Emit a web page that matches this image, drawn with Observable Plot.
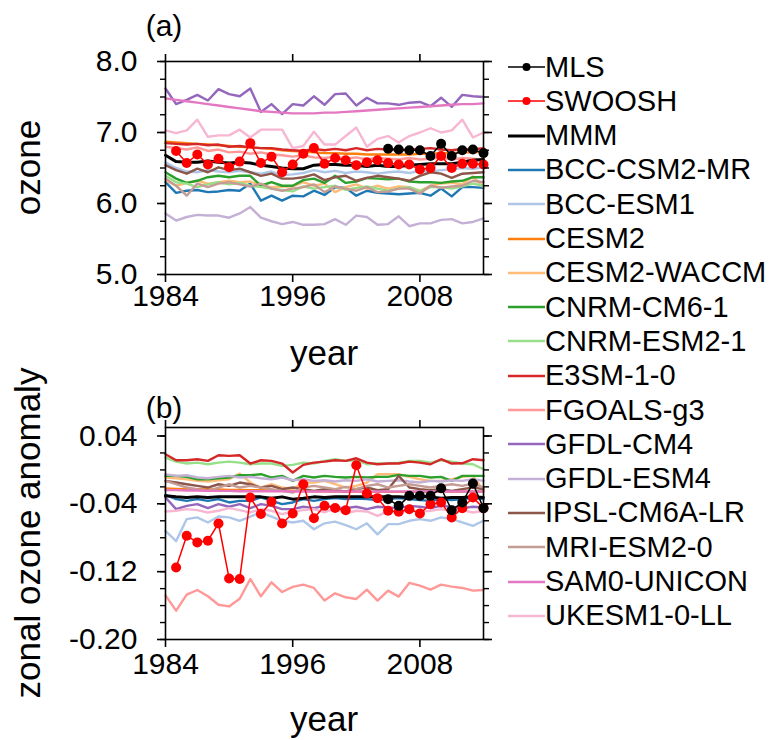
<!DOCTYPE html>
<html><head><meta charset="utf-8">
<script src="https://cdn.jsdelivr.net/npm/d3@7"></script>
<script src="https://cdn.jsdelivr.net/npm/@observablehq/plot@0.6"></script>
<style>
html,body{margin:0;padding:0;background:#fff;}
body{width:773px;height:740px;position:relative;overflow:hidden;font-family:"Liberation Sans",Arial,Helvetica,sans-serif;}
.panel{position:absolute;left:0;width:500px;}
#labels{position:absolute;left:0;top:0;pointer-events:none;}
.leg{position:absolute;left:508px;height:34px;display:flex;align-items:center;font-size:29px;color:#000;white-space:nowrap;}
.leg svg{display:block;}
</style></head><body>
<div id="pa" class="panel" style="top:0px"></div>
<div id="pb" class="panel" style="top:370px"></div>
<div id="legend"></div>
<svg id="labels" width="773" height="740" font-family="Liberation Sans, Arial, Helvetica, sans-serif" fill="#000">
  <text x="164" y="36" font-size="30" text-anchor="middle">(a)</text>
  <text x="164" y="418" font-size="30" text-anchor="middle">(b)</text>
  <text transform="translate(40,167.5) rotate(-90)" font-size="35" text-anchor="middle">ozone</text>
  <text transform="translate(40,533) rotate(-90)" font-size="35" text-anchor="middle">zonal ozone anomaly</text>
  <text x="324" y="365" font-size="35" text-anchor="middle">year</text>
  <text x="324" y="731" font-size="35" text-anchor="middle">year</text>
</svg>
<script>
const years = [1984,1985,1986,1987,1988,1989,1990,1991,1992,1993,1994,1995,1996,1997,1998,1999,2000,2001,2002,2003,2004,2005,2006,2007,2008,2009,2010,2011,2012,2013,2014];
const swooshYears = [1985,1986,1987,1988,1989,1990,1991,1992,1993,1994,1995,1996,1997,1998,1999,2000,2001,2002,2003,2004,2005,2006,2007,2008,2009,2010,2011,2012,2013,2014];
const mlsYears = [2005,2006,2007,2008,2009,2010,2011,2012,2013,2014];

const models = ["BCC-CSM2-MR","BCC-ESM1","CESM2","CESM2-WACCM","CNRM-CM6-1","CNRM-ESM2-1","E3SM-1-0","FGOALS-g3","GFDL-CM4","GFDL-ESM4","IPSL-CM6A-LR","MRI-ESM2-0","SAM0-UNICON","UKESM1-0-LL"];
const modelColors = ["#1f77b4","#aec7e8","#ff7f0e","#ffbb78","#2ca02c","#98df8a","#d62728","#ff9896","#9467bd","#c5b0d5","#8c564b","#c49c94","#e377c2","#f7b6d2"];
const legendNames = ["MLS","SWOOSH","MMM"].concat(models);

const xTicks = [1984, 1996, 2008];
const yTicksA = [5, 6, 7, 8];
const yTicksB = [-0.20, -0.12, -0.04, 0.04];

// ---- panel (a): ozone ----
const mlsA = [6.77,6.76,6.75,6.75,6.67,6.84,6.67,6.75,6.76,6.71];
const swooshA = [6.74,6.57,6.69,6.55,6.63,6.51,6.59,6.85,6.57,6.66,6.44,6.55,6.70,6.78,6.56,6.64,6.61,6.54,6.58,6.61,6.57,6.55,6.55,6.48,6.50,6.67,6.50,6.56,6.56,6.55];
const mmmA = [6.68,6.59,6.58,6.58,6.60,6.58,6.57,6.58,6.57,6.54,6.52,6.50,6.49,6.49,6.54,6.55,6.55,6.54,6.54,6.52,6.54,6.52,6.52,6.54,6.55,6.56,6.56,6.56,6.58,6.61,6.62];
const bccCsmA = [6.30,6.15,6.18,6.19,6.16,6.17,6.19,6.18,6.28,6.04,6.11,6.04,6.11,6.10,6.18,6.12,6.23,6.22,6.11,6.18,6.15,6.14,6.13,6.14,6.15,6.11,6.21,6.10,6.23,6.23,6.22];
const bccEsmA = [6.58,6.50,6.45,6.44,6.47,6.45,6.44,6.46,6.44,6.42,6.45,6.40,6.41,6.43,6.47,6.44,6.46,6.43,6.45,6.44,6.42,6.44,6.45,6.43,6.46,6.45,6.47,6.48,6.50,6.49,6.51];
const cesm2A = [6.87,6.86,6.85,6.84,6.83,6.82,6.81,6.80,6.79,6.78,6.77,6.75,6.74,6.73,6.72,6.71,6.71,6.70,6.70,6.69,6.69,6.69,6.69,6.69,6.70,6.70,6.71,6.71,6.72,6.72,6.73];
const waccmA = [6.33,6.25,6.29,6.32,6.28,6.30,6.32,6.30,6.31,6.25,6.23,6.24,6.24,6.30,6.25,6.28,6.16,6.23,6.27,6.21,6.25,6.21,6.24,6.23,6.18,6.25,6.28,6.29,6.27,6.38,6.23];
const cnrmCmA = [6.44,6.35,6.29,6.32,6.37,6.39,6.37,6.39,6.39,6.25,6.30,6.25,6.25,6.33,6.35,6.29,6.39,6.29,6.31,6.36,6.35,6.34,6.35,6.31,6.30,6.30,6.29,6.31,6.32,6.37,6.37];
const cnrmEsmA = [6.39,6.30,6.28,6.23,6.27,6.30,6.27,6.29,6.25,6.23,6.21,6.19,6.17,6.24,6.21,6.23,6.25,6.19,6.22,6.24,6.21,6.18,6.21,6.23,6.17,6.23,6.23,6.21,6.24,6.28,6.25];
const e3smA = [6.85,6.84,6.83,6.84,6.82,6.83,6.80,6.81,6.79,6.78,6.78,6.76,6.75,6.74,6.77,6.75,6.77,6.75,6.78,6.75,6.77,6.76,6.75,6.76,6.77,6.78,6.76,6.75,6.77,6.76,6.78];
const fgoalsA = [6.80,6.78,6.76,6.79,6.74,6.76,6.72,6.73,6.70,6.72,6.69,6.68,6.66,6.68,6.65,6.64,6.66,6.63,6.65,6.62,6.64,6.63,6.62,6.64,6.62,6.63,6.65,6.62,6.64,6.63,6.62];
const gfdlCmA = [7.62,7.40,7.46,7.53,7.45,7.61,7.54,7.51,7.62,7.29,7.40,7.26,7.40,7.38,7.51,7.39,7.54,7.55,7.38,7.49,7.41,7.41,7.39,7.42,7.43,7.37,7.49,7.36,7.53,7.51,7.50];
const gfdlEsmA = [5.86,5.76,5.81,5.84,5.83,5.83,5.80,5.86,5.95,5.80,5.75,5.71,5.74,5.70,5.70,5.71,5.78,5.70,5.83,5.81,5.70,5.71,5.82,5.68,5.72,5.72,5.77,5.78,5.72,5.74,5.79];
const ipslA = [6.54,6.47,6.42,6.49,6.44,6.51,6.47,6.49,6.44,6.39,6.42,6.35,6.35,6.37,6.41,6.33,6.37,6.39,6.32,6.36,6.39,6.37,6.35,6.32,6.39,6.44,6.42,6.36,6.42,6.43,6.44];
const mriA = [6.35,6.25,6.11,6.28,6.23,6.28,6.30,6.27,6.24,6.28,6.21,6.18,6.21,6.23,6.27,6.16,6.24,6.21,6.18,6.23,6.16,6.17,6.21,6.21,6.14,6.25,6.22,6.24,6.25,6.32,6.30];
const samA = [7.48,7.46,7.44,7.42,7.40,7.38,7.36,7.34,7.32,7.30,7.29,7.28,7.27,7.27,7.27,7.28,7.28,7.29,7.30,7.31,7.32,7.33,7.34,7.35,7.36,7.37,7.38,7.39,7.40,7.40,7.41];
const ukesmA = [7.03,6.99,7.03,7.18,6.94,6.96,6.96,7.04,6.93,7.04,7.04,7.04,6.78,6.81,7.01,6.83,6.83,6.95,7.07,6.80,6.91,6.95,6.86,6.95,7.00,7.06,7.00,7.03,7.18,6.93,7.00];

// ---- panel (b): zonal ozone anomaly ----
const mlsB = [-0.0345,-0.0424,-0.0306,-0.0306,-0.0306,-0.0216,-0.0475,-0.0384,-0.016,-0.0451];
const swooshB = [-0.115,-0.0776,-0.0855,-0.0835,-0.0632,-0.128,-0.1286,-0.0326,-0.052,-0.0376,-0.0632,-0.0514,-0.0169,-0.057,-0.0424,-0.045,-0.0475,0.0055,-0.0278,-0.0333,-0.0482,-0.0494,-0.0463,-0.0514,-0.0404,-0.0384,-0.056,-0.0451,-0.0325,-0.0451];
const mmmB = [-0.0306,-0.0318,-0.0325,-0.0318,-0.0325,-0.0318,-0.0318,-0.0318,-0.0318,-0.0318,-0.0333,-0.0318,-0.0345,-0.0333,-0.0318,-0.0325,-0.0318,-0.0318,-0.0318,-0.0318,-0.0318,-0.0318,-0.0318,-0.0325,-0.0318,-0.0318,-0.0333,-0.0325,-0.0325,-0.0318,-0.0325];
const bccCsmB = [-0.0294,-0.0345,-0.0365,-0.0345,-0.0365,-0.0345,-0.0384,-0.0365,-0.0365,-0.0325,-0.0365,-0.0404,-0.0384,-0.0345,-0.0365,-0.0345,-0.0333,-0.0345,-0.0337,-0.0345,-0.0357,-0.0345,-0.0333,-0.0345,-0.0357,-0.0365,-0.0345,-0.0357,-0.0345,-0.0333,-0.0345];
const bccEsmB = [-0.072,-0.084,-0.058,-0.056,-0.062,-0.055,-0.056,-0.060,-0.055,-0.050,-0.055,-0.060,-0.062,-0.060,-0.070,-0.063,-0.061,-0.065,-0.070,-0.063,-0.076,-0.064,-0.064,-0.060,-0.058,-0.060,-0.056,-0.058,-0.062,-0.066,-0.060];
const cesm2B = [-0.0220,-0.0224,-0.0227,-0.0227,-0.0231,-0.0231,-0.0235,-0.0235,-0.0239,-0.0239,-0.0243,-0.0243,-0.0247,-0.0247,-0.0251,-0.0251,-0.0255,-0.0255,-0.0255,-0.0259,-0.0259,-0.0259,-0.0259,-0.0259,-0.0259,-0.0259,-0.0255,-0.0255,-0.0255,-0.0255,-0.0255];
const waccmB = [-0.0090,-0.0098,-0.0110,-0.0129,-0.0137,-0.0122,-0.0110,-0.0043,-0.0149,-0.0208,-0.0169,-0.0208,-0.0227,-0.0149,-0.0149,-0.0129,-0.0169,-0.0208,-0.0188,-0.0149,-0.0051,-0.0051,-0.0051,-0.0082,-0.0110,-0.0129,-0.0129,-0.0110,-0.0082,-0.0071,-0.0239];
const cnrmCmB = [-0.0071,-0.0071,-0.0082,-0.0110,-0.0110,-0.0098,-0.0090,-0.0063,-0.0063,-0.0051,-0.0090,-0.0071,-0.0129,-0.0071,-0.0090,-0.0071,-0.0082,-0.0090,-0.0082,-0.0090,-0.0082,-0.0082,-0.0059,-0.0071,-0.0071,-0.0090,-0.0082,-0.0129,-0.0071,-0.0071,-0.0071];
const cnrmEsmB = [0.0145,0.0098,0.0075,0.0086,0.0067,0.0086,0.0098,0.0086,0.0067,0.0075,0.0075,0.0047,0.0059,0.0086,0.0075,0.0106,0.0126,0.0106,0.0114,0.0067,0.0075,0.0075,0.0086,0.0106,0.0106,0.0086,0.0114,0.0098,0.0075,0.0067,0.0008];
const e3smB = [0.0184,0.0114,0.0114,0.0126,0.0106,0.0173,0.0165,0.0173,0.0075,0.0114,0.0106,0.0075,-0.0031,0.0059,0.0086,0.0098,0.0114,0.0106,0.0137,0.0086,0.0067,0.0075,0.0075,0.0098,0.0086,0.0067,0.0126,0.0075,0.0078,0.0126,0.0114];
const fgoalsB = [-0.148,-0.166,-0.147,-0.1416,-0.149,-0.159,-0.161,-0.152,-0.1286,-0.149,-0.1325,-0.144,-0.138,-0.1353,-0.1392,-0.1541,-0.1455,-0.1502,-0.1522,-0.1412,-0.1541,-0.1424,-0.1494,-0.1333,-0.1365,-0.1412,-0.1353,-0.1376,-0.1392,-0.1424,-0.1416];
const gfdlCmB = [-0.0325,-0.0463,-0.0424,-0.0404,-0.0451,-0.0404,-0.0435,-0.0404,-0.0451,-0.0404,-0.0424,-0.0463,-0.0463,-0.0435,-0.0451,-0.0424,-0.0443,-0.0451,-0.0435,-0.0463,-0.0435,-0.0443,-0.0451,-0.0424,-0.0435,-0.0451,-0.0424,-0.0435,-0.0451,-0.0435,-0.0443];
const gfdlEsmB = [-0.0051,-0.0071,-0.0063,-0.0090,-0.0098,-0.0082,-0.0071,-0.0090,-0.0082,-0.0098,-0.0110,-0.0090,-0.0122,-0.0110,-0.0129,-0.0122,-0.0137,-0.0122,-0.0129,-0.0110,-0.0137,-0.0129,-0.0122,-0.0137,-0.0149,-0.0129,-0.0137,-0.0122,-0.0129,-0.0110,-0.0129];
const ipslB = [-0.0129,-0.0149,-0.0169,-0.0188,-0.0208,-0.0169,-0.0188,-0.0149,-0.0169,-0.0208,-0.0188,-0.0227,-0.0208,-0.0227,-0.0247,-0.0227,-0.0239,-0.0255,-0.0227,-0.0208,-0.0239,-0.0227,-0.0071,-0.0208,-0.0227,-0.0239,-0.0227,-0.0247,-0.0227,-0.0208,-0.0227];
const mriB = [-0.0129,-0.0169,-0.0208,-0.0227,-0.0247,-0.0208,-0.0169,-0.0208,-0.0188,-0.0208,-0.0227,-0.0247,-0.0267,-0.0208,-0.0188,-0.0208,-0.0227,-0.0200,-0.0227,-0.0188,-0.0169,-0.0208,-0.0188,-0.0169,-0.0188,-0.0208,-0.0188,-0.0169,-0.0188,-0.0161,-0.0208];
const samB = [-0.0239,-0.0239,-0.0243,-0.0243,-0.0247,-0.0247,-0.0247,-0.0251,-0.0251,-0.0251,-0.0251,-0.0251,-0.0255,-0.0255,-0.0255,-0.0255,-0.0255,-0.0255,-0.0255,-0.0255,-0.0255,-0.0255,-0.0255,-0.0255,-0.0255,-0.0255,-0.0255,-0.0255,-0.0255,-0.0255,-0.0255];
const ukesmB = [-0.0490,-0.0482,-0.0463,-0.0475,-0.0502,-0.0482,-0.0451,-0.0475,-0.0502,-0.0463,-0.0482,-0.0522,-0.0490,-0.0475,-0.0463,-0.0502,-0.0451,-0.0514,-0.0482,-0.0490,-0.0541,-0.0490,-0.0502,-0.0475,-0.0490,-0.0482,-0.0463,-0.0490,-0.0475,-0.0502,-0.0482];

const modelA = [bccCsmA,bccEsmA,cesm2A,waccmA,cnrmCmA,cnrmEsmA,e3smA,fgoalsA,gfdlCmA,gfdlEsmA,ipslA,mriA,samA,ukesmA];
const modelB = [bccCsmB,bccEsmB,cesm2B,waccmB,cnrmCmB,cnrmEsmB,e3smB,fgoalsB,gfdlCmB,gfdlEsmB,ipslB,mriB,samB,ukesmB];

const rows = (xs, vs) => xs.map((x, i) => ({year: x, v: vs[i]}));
const FONT = "Liberation Sans, Arial, Helvetica, sans-serif";

function panel({domain, major, minor, models, mmm, swoosh, mls, fmt, marginTop, marginBottom, height, xPad}) {
  const marks = [];
  models.forEach((vals, i) => {
    marks.push(Plot.line(rows(years, vals), {x: "year", y: "v", stroke: modelColors[i], strokeWidth: 2.4}));
  });
  marks.push(Plot.line(rows(years, mmm), {x: "year", y: "v", stroke: "black", strokeWidth: 3}));
  marks.push(Plot.line(rows(swooshYears, swoosh), {x: "year", y: "v", stroke: "#ff0000", strokeWidth: 1.5}));
  marks.push(Plot.dot(rows(swooshYears, swoosh), {x: "year", y: "v", fill: "#ff0000", r: 5}));
  marks.push(Plot.line(rows(mlsYears, mls), {x: "year", y: "v", stroke: "black", strokeWidth: 1.5}));
  marks.push(Plot.dot(rows(mlsYears, mls), {x: "year", y: "v", fill: "black", r: 5}));
  marks.push(Plot.frame({stroke: "black", strokeWidth: 1.6}));
  marks.push(Plot.axisY(minor, {anchor: "left", tickSize: 5, fill: "none", strokeWidth: 1.4, label: null}));
  marks.push(Plot.axisY(minor, {anchor: "right", tickSize: 5, fill: "none", strokeWidth: 1.4, label: null}));
  marks.push(Plot.axisY(major, {anchor: "left", tickSize: 8, tickPadding: 20, tickFormat: fmt, fontSize: 30, fill: "black", strokeWidth: 1.6, label: null}));
  marks.push(Plot.axisY(major, {anchor: "right", tickSize: 8, fill: "none", strokeWidth: 1.6, label: null}));
  marks.push(Plot.axisX(xTicks, {anchor: "bottom", tickSize: 8, tickPadding: xPad, tickFormat: d => String(d), fontSize: 30, fill: "black", strokeWidth: 1.6, label: null}));
  marks.push(Plot.axisX(xTicks, {anchor: "top", tickSize: 8, fill: "none", strokeWidth: 1.6, label: null}));
  return Plot.plot({
    width: 500, height, marginLeft: 165, marginRight: 17, marginTop, marginBottom,
    x: {domain: [1984, 2014], axis: null, label: null},
    y: {domain, axis: null, label: null},
    style: {fontSize: "30px", fontFamily: FONT, background: "transparent", overflow: "visible", color: "black"},
    marks
  });
}

const minorA = d3.range(5, 8.001, 0.25);
const minorB = d3.range(-0.20, 0.0501, 0.02);

document.getElementById("pa").appendChild(panel({
  domain: [5, 8], major: yTicksA, minor: minorA, models: modelA, mmm: mmmA, swoosh: swooshA, mls: mlsA,
  fmt: d => d.toFixed(1), marginTop: 61, marginBottom: 96, height: 370, xPad: 2
}));
document.getElementById("pb").appendChild(panel({
  domain: [-0.20, 0.05], major: yTicksB, minor: minorB, models: modelB, mmm: mmmB, swoosh: swooshB, mls: mlsB,
  fmt: d => d.toFixed(2), marginTop: 57, marginBottom: 101, height: 370, xPad: 5
}));

// legend
const legend = document.getElementById("legend");
legendNames.forEach((name, i) => {
  const div = document.createElement("div");
  div.className = "leg";
  div.style.top = (67 + i * 34.3 - 17) + "px";
  let color, sw = 2.4, dot = false;
  if (name === "MLS") { color = "black"; sw = 1.5; dot = true; }
  else if (name === "SWOOSH") { color = "#ff0000"; sw = 1.5; dot = true; }
  else if (name === "MMM") { color = "black"; sw = 3; }
  else color = modelColors[models.indexOf(name)];
  div.innerHTML = `<svg width="37" height="34"><line x1="0" x2="37" y1="17" y2="17" stroke="${color}" stroke-width="${sw}"/>${dot ? `<circle cx="18.5" cy="17" r="4" fill="${color}"/>` : ""}</svg><span>${name}</span>`;
  legend.appendChild(div);
});
</script>
</body></html>
